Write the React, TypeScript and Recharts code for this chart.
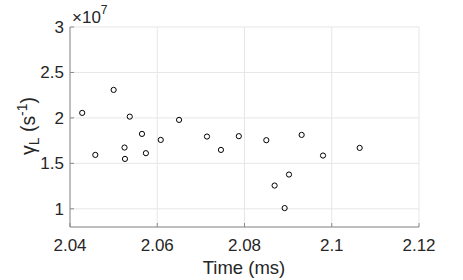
import React from "react";
import {
  CartesianGrid,
  Scatter,
  ScatterChart,
  XAxis,
  YAxis,
} from "recharts";

// time in ms
const timeMs = [
  2.0428, 2.0458, 2.05, 2.0525, 2.0526, 2.0537, 2.0565, 2.0574, 2.0608, 2.065,
  2.0714, 2.0746, 2.0787, 2.085, 2.0869, 2.0892, 2.0902, 2.0931, 2.098, 2.1064,
];
// gamma_L in s^-1
const gammaL = [
  2.055e7, 1.593e7, 2.308e7, 1.674e7, 1.549e7, 2.014e7, 1.824e7, 1.612e7,
  1.758e7, 1.978e7, 1.795e7, 1.648e7, 1.799e7, 1.755e7, 1.256e7, 1.008e7,
  1.377e7, 1.813e7, 1.586e7, 1.67e7,
];

const xTicks = [2.04, 2.06, 2.08, 2.1, 2.12];
const yTicks = [1e7, 1.5e7, 2e7, 2.5e7, 3e7];

const points = timeMs.map((t, i) => ({ t, g: gammaL[i] }));

const FONT = "'Liberation Sans', Arial, sans-serif";
const AXIS = "#8a8a8a";
const TXT = "#262626";

const Ring = (props: any) => {
  const { cx, cy } = props;
  if (cx == null || cy == null) return null;
  return <circle cx={cx} cy={cy} r={2.6} fill="none" stroke="#000" strokeWidth={1} />;
};

export default function App() {
  const tickStyle = { fontSize: 17, fill: TXT, fontFamily: FONT };
  return (
    <div style={{ position: "absolute", left: 0, top: 0, width: 463, height: 280, background: "#fff" }}>
      <ScatterChart
        width={463}
        height={280}
        margin={{ top: 27, right: 44, bottom: 0, left: 0 }}
      >
        <CartesianGrid stroke="#e6e6e6" strokeWidth={1} />
        <XAxis
          dataKey="t"
          type="number"
          domain={[2.04, 2.12]}
          ticks={xTicks}
          height={53}
          tickSize={-4}
          tickMargin={16}
          stroke={AXIS}
          tick={tickStyle}
          tickFormatter={(v: number) => String(+v.toFixed(2))}
          allowDataOverflow
        />
        <XAxis
          xAxisId="top"
          orientation="top"
          type="number"
          domain={[2.04, 2.12]}
          ticks={xTicks}
          height={0}
          tickSize={-4}
          stroke={AXIS}
          tickFormatter={() => ""}
        />
        <YAxis
          dataKey="g"
          type="number"
          domain={[0.8e7, 3e7]}
          ticks={yTicks}
          width={70}
          tickSize={-4}
          tickMargin={10}
          stroke={AXIS}
          tick={tickStyle}
          tickFormatter={(v: number) => String(v / 1e7)}
          allowDataOverflow
        />
        <YAxis
          yAxisId="right"
          orientation="right"
          type="number"
          domain={[0.8e7, 3e7]}
          ticks={yTicks}
          width={0}
          tickSize={-4}
          stroke={AXIS}
          tickFormatter={() => ""}
        />
        <Scatter data={points} shape={Ring} isAnimationActive={false} />
      </ScatterChart>
      <svg
        width={463}
        height={280}
        style={{ position: "absolute", left: 0, top: 0, pointerEvents: "none" }}
        fontFamily={FONT}
        fill={TXT}
      >
        <text x={72} y={23} fontSize={17}>
          ×10
          <tspan fontSize={12} dy={-9}>7</tspan>
        </text>
        <text
          x={244}
          y={274}
          fontSize={18.5}
          textAnchor="middle"
        >
          Time (ms)
        </text>
        <text
          transform="translate(35,126) rotate(-90)"
          fontSize={19.5}
          textAnchor="middle"
        >
          γ
          <tspan fontSize={14} dy={4}>L</tspan>
          <tspan dy={-4}> (s</tspan>
          <tspan fontSize={14} dy={-8}>-1</tspan>
          <tspan dy={8}>)</tspan>
        </text>
      </svg>
    </div>
  );
}
